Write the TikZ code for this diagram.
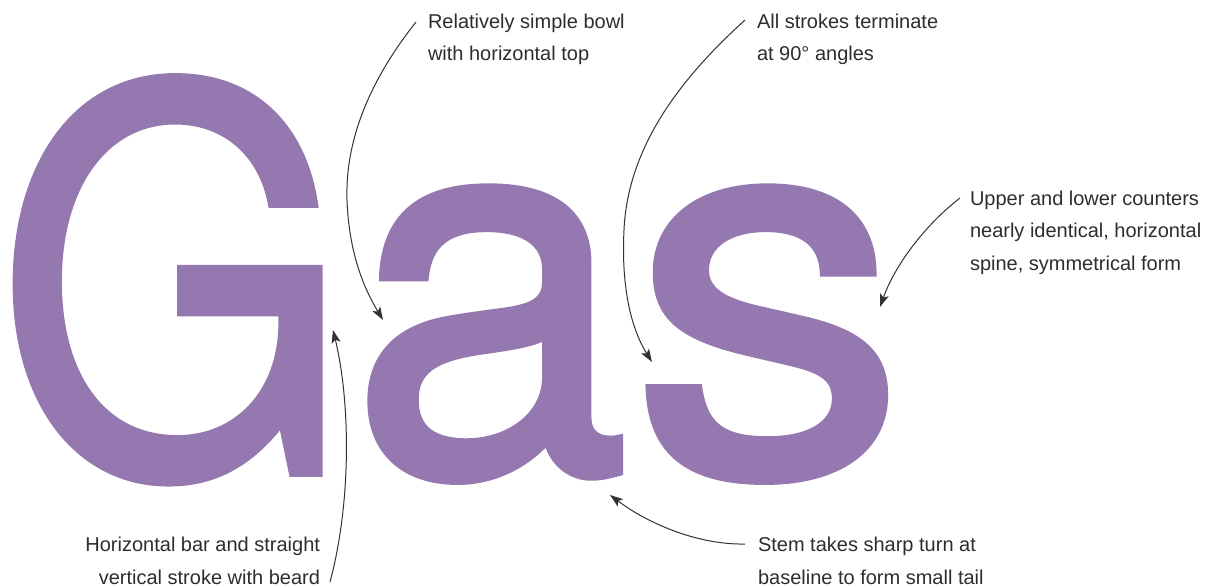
\documentclass[tikz,border=0pt]{standalone}
\usepackage{fontspec}
\usepackage{graphicx}
\setmainfont{Liberation Sans}
\newfontfamily\bigfont[FakeBold=1.5]{TeX Gyre Heros}
\usetikzlibrary{arrows.meta}
\definecolor{gaspurple}{RGB}{150,120,176}
\definecolor{labelgray}{RGB}{45,45,45}
\definecolor{arrowgray}{RGB}{50,50,50}
\tikzset{
  letter/.style={anchor=base west, inner sep=0pt, outer sep=0pt, text=gaspurple,
    font=\bigfont\fontsize{530}{530}\selectfont},
  lbl/.style={inner sep=0pt, outer sep=0pt, text=labelgray,
    font=\fontsize{20}{32.5}\selectfont},
  pointer/.style={draw=arrowgray, line width=1pt,
    -{Stealth[length=13pt,width=9pt,inset=3pt]}},
}
\begin{document}
\begin{tikzpicture}[x=1pt,y=-1pt]
\useasboundingbox (0,0) rectangle (1225,588);
% big letters
\node[letter] (G) at (-4,473) {\scalebox{0.86}[1]{G}};
\node[letter] (a) at (350,473) {\scalebox{0.95}[1]{a}};
\node[letter] (s) at (631,473) {\scalebox{1.04}[1]{s}};
% labels (base anchor = baseline of the last line)
\node[lbl, anchor=base west, align=left] (l1) at (428,61) {Relatively simple bowl\\with horizontal top};
\node[lbl, anchor=base west, align=left] (l2) at (757,61) {All strokes terminate\\at 90° angles};
\node[lbl, anchor=base west, align=left] (l3) at (970,270) {Upper and lower counters\\nearly identical, horizontal\\spine, symmetrical form};
\node[lbl, anchor=base east, align=right] (l4) at (320,584) {Horizontal bar and straight\\vertical stroke with beard};
\node[lbl, anchor=base west, align=left] (l5) at (758,584) {Stem takes sharp turn at\\baseline to form small tail};
% arrow ends
\coordinate (s1) at (416,22);  \coordinate (t1) at (383,320);
\coordinate (s2) at (745,20);  \coordinate (t2) at (652,362);
\coordinate (s3) at (960,198); \coordinate (t3) at (880,307);
\coordinate (s4) at (330,582); \coordinate (t4) at (333,330);
\coordinate (s5) at (745,544); \coordinate (t5) at (610,495);
% arrows
\draw[pointer] (s1) .. controls (370,80) and (345,140) .. (347,200)
                    .. controls (349,255) and (365,290) .. (t1);
\draw[pointer] (s2) .. controls (690,70) and (628,140) .. (624,230)
                    .. controls (621,290) and (632,330) .. (t2);
\draw[pointer] (s3) .. controls (925,225) and (895,265) .. (t3);
\draw[pointer] (s4) .. controls (352,500) and (350,400) .. (t4);
\draw[pointer] (s5) .. controls (700,545) and (650,525) .. (t5);
\end{tikzpicture}
\end{document}
